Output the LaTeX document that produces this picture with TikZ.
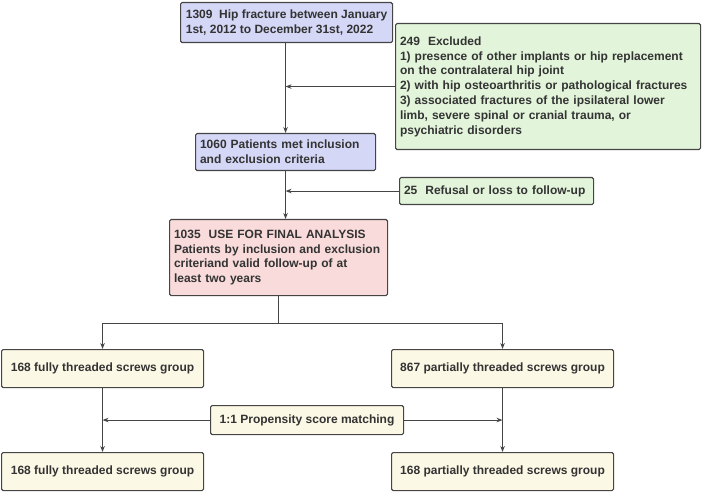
\documentclass[tikz,border=0pt]{standalone}
\usepackage{fontspec}
\setmainfont{Liberation Sans}
\usetikzlibrary{positioning,arrows.meta}

\definecolor{lineGray}{HTML}{454545}
\definecolor{textGray}{HTML}{333333}
\definecolor{boxBlue}{HTML}{D4D7F6}
\definecolor{boxGreen}{HTML}{E2F4DA}
\definecolor{boxPink}{HTML}{F8DBDA}
\definecolor{boxCream}{HTML}{FCF8E6}

\begin{document}
\begin{tikzpicture}[
  x=1pt, y=-1pt,
  box/.style={draw=lineGray, line width=1.1pt, rounded corners=1.5pt, anchor=north west,
    inner xsep=4.5pt, inner ysep=0pt, align=left, text=textGray,
    font=\bfseries\fontsize{12}{14.8}\selectfont},
  groupbox/.style={box, fill=boxCream, align=center},
  arrow/.style={-{Stealth[length=6pt,width=4.5pt]}, draw=lineGray, line width=1pt}
]
\useasboundingbox (0,0) rectangle (702,492);

\node[box, fill=boxBlue, minimum width=212pt, minimum height=40pt] (hip) at (180,2)
  {1309\ \ Hip fracture between January\\1st, 2012 to December 31st, 2022};
\node[box, fill=boxGreen, minimum width=305pt, minimum height=126pt, text width=296pt] (excl) at (395,23)
  {249\ \ Excluded\\
   1) presence of other implants or hip replacement\\
   on the contralateral hip joint\\
   2) with hip osteoarthritis or pathological fractures\\
   3) associated fractures of the ipsilateral lower\\
   limb, severe spinal or cranial trauma, or\\
   psychiatric disorders};
\node[box, fill=boxBlue, minimum width=180pt, minimum height=37pt, text width=171pt] (met) at (195,133)
  {1060 Patients met inclusion\\and exclusion criteria};
\node[box, fill=boxGreen, minimum width=194pt, minimum height=27pt, text width=185pt] (refusal) at (399,177)
  {25\ \ Refusal or loss to follow-up};
\node[box, fill=boxPink, minimum width=218pt, minimum height=76pt, text width=209pt] (final) at (169,219)
  {1035\ \ USE FOR FINAL ANALYSIS\\Patients by inclusion and exclusion\\criteriand valid follow-up of at\\least two years};

% groups
\node[groupbox, minimum width=202pt, minimum height=38pt] (fullyA) at (1,349) {168 fully threaded screws group};
\node[groupbox, minimum width=222pt, minimum height=38pt] (partA) at (391,349) {867 partially threaded screws group};
\node[groupbox, minimum width=193pt, minimum height=29pt] (psm) at (210,405) {1:1 Propensity score matching};
\node[groupbox, minimum width=202pt, minimum height=38pt] (fullyB) at (1,452) {168 fully threaded screws group};
\node[groupbox, minimum width=222pt, minimum height=38pt] (partB) at (391,452) {168 partially threaded screws group};

\draw[arrow] (hip.south -| met.north) -- (met.north);
\draw[arrow] (excl.west) -- (excl.west -| met.north);
\draw[arrow] (met.south) -- (met.south |- final.north);
\draw[arrow] (refusal.west) -- (refusal.west -| met.south);
\draw[draw=lineGray, line width=1pt] (final.south) -- ++(0,27) coordinate (split);
\draw[arrow] (split) -| (fullyA.north);
\draw[arrow] (split) -| (partA.north);
\draw[arrow] (fullyA.south) -- (fullyB.north);
\draw[arrow] (partA.south) -- (partB.north);
\draw[arrow] (psm.west) -- (psm.west -| fullyA.south);
\draw[arrow] (psm.east) -- (psm.east -| partA.south);
\end{tikzpicture}
\end{document}
